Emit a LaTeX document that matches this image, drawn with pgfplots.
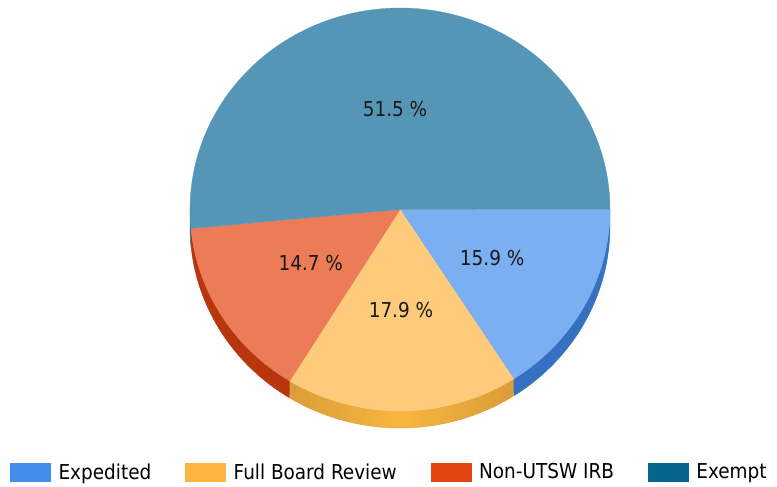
\documentclass[border=0pt]{standalone}
\usepackage{fontspec}
\setmainfont{DejaVu Sans Condensed}
\usepackage{pgfplots}
\usepackage{pgfplotstable}
\pgfplotsset{compat=1.18}
\definecolor{expTop}{HTML}{7BAFF2}
\definecolor{fullTop}{HTML}{FDCB7B}
\definecolor{nonTop}{HTML}{EB7C57}
\definecolor{exmTop}{HTML}{5596B7}
\definecolor{expSide}{HTML}{3670C0}
\definecolor{fullSideE}{HTML}{D99D3A}
\definecolor{fullSideM}{HTML}{FAB540}
\definecolor{nonSide}{HTML}{B8360E}
\definecolor{exmSide}{HTML}{2E6F8E}
\definecolor{expLeg}{HTML}{448EEB}
\definecolor{fullLeg}{HTML}{FDB541}
\definecolor{nonLeg}{HTML}{E2450F}
\definecolor{exmLeg}{HTML}{06658F}

\pgfplotstableread{
name value
Expedited 15.9
FullBoard 17.9
NonUTSW 14.7
Exempt 51.5
}\pietable
\pgfplotstablegetelem{0}{value}\of\pietable \let\vA\pgfplotsretval
\pgfplotstablegetelem{1}{value}\of\pietable \let\vB\pgfplotsretval
\pgfplotstablegetelem{2}{value}\of\pietable \let\vC\pgfplotsretval
\pgfplotstablegetelem{3}{value}\of\pietable \let\vD\pgfplotsretval
\pgfmathsetmacro\aA{0}
\pgfmathsetmacro\aB{3.6*\vA}
\pgfmathsetmacro\aC{\aB+3.6*\vB}
\pgfmathsetmacro\aD{\aC+3.6*\vC}
\pgfmathsetmacro\aE{\aD+3.6*\vD}
\pgfmathsetmacro\aBx{\aB+0.8}
\pgfmathsetmacro\aCx{\aC+0.8}
\pgfmathsetmacro\aDx{\aD+0.8}
\def\cx{400}\def\cy{209.5}\def\rx{210}\def\ry{201.5}\def\dz{17}
\pgfmathsetmacro\lAx{\cx+0.5*\rx*cos((\aA+\aB)/2)}\pgfmathsetmacro\lAy{\cy+0.5*\ry*sin((\aA+\aB)/2)}
\pgfmathsetmacro\lBx{\cx+0.5*\rx*cos((\aB+\aC)/2)}\pgfmathsetmacro\lBy{\cy+0.5*\ry*sin((\aB+\aC)/2)}
\pgfmathsetmacro\lCx{\cx+0.5*\rx*cos((\aC+\aD)/2)}\pgfmathsetmacro\lCy{\cy+0.5*\ry*sin((\aC+\aD)/2)}
\pgfmathsetmacro\lDx{\cx+0.5*\rx*cos((\aD+\aE)/2)}\pgfmathsetmacro\lDy{\cy+0.5*\ry*sin((\aD+\aE)/2)}
\newcommand\pieside[3]{%
\addplot[#3, domain=0:2, samples=121, variable=\t, line width=0.4bp]
 ({\cx+\rx*cos((\t<=1.0001) ? (#1+(#2-#1)*\t) : (#2-(#2-#1)*(\t-1)))},
  {\cy+\ry*sin((\t<=1.0001) ? (#1+(#2-#1)*\t) : (#2-(#2-#1)*(\t-1)))+(\t>1.0001)*\dz});
}
\newcommand\pietop[3]{%
\addplot[fill=#3, draw=#3, line width=0.3bp, domain=#1:#2, samples=120, variable=\t]
 ({\cx+\rx*cos(\t)},{\cy+\ry*sin(\t)}) -- (axis cs:\cx,\cy) -- cycle;
}
\begin{document}%
\begin{tikzpicture}
\begin{axis}[
  at={(0,0)}, anchor=south west,
  scale only axis, width=777bp, height=487bp,
  xmin=0, xmax=777, ymin=0, ymax=487, y dir=reverse,
  hide axis, clip=false, no markers,
  font=\fontsize{20.5bp}{24bp}\selectfont,
  legend columns=4,
  legend style={at={(axis cs:10,472)}, anchor=west, draw=none, fill=none, inner sep=0pt,
    column sep=8bp, /tikz/every even column/.append style={column sep=34bp},
    nodes={inner sep=0pt}, font=\fontsize{20.5bp}{24bp}\selectfont},
  legend cell align=left,
]
\addlegendimage{legend image code/.code={\fill[expLeg] (0bp,-9bp) rectangle (40bp,9bp);}}
\addlegendentry{Expedited}
\addlegendimage{legend image code/.code={\fill[fullLeg] (0bp,-9bp) rectangle (40bp,9bp);}}
\addlegendentry{Full Board Review}
\addlegendimage{legend image code/.code={\fill[nonLeg] (0bp,-9bp) rectangle (40bp,9bp);}}
\addlegendentry{Non-UTSW IRB}
\addlegendimage{legend image code/.code={\fill[exmLeg] (0bp,-9bp) rectangle (40bp,9bp);}}
\addlegendentry{Exempt}
% sides
\pieside{\aA}{\aBx}{fill=expSide, draw=expSide}
\pieside{\aB}{\aCx}{left color=fullSideE, right color=fullSideE, middle color=fullSideM, draw=fullSideE}
\pieside{\aC}{\aDx}{fill=nonSide, draw=nonSide}
\pieside{\aD}{180}{fill=exmSide, draw=exmSide}
% tops
\pietop{\aA}{\aB}{expTop}
\pietop{\aB}{\aC}{fullTop}
\pietop{\aC}{\aD}{nonTop}
\pietop{\aD}{\aE}{exmTop}
\node[text=black!90] at (axis cs:\lAx,\lAy) {\vA~\%};
\node[text=black!90] at (axis cs:\lBx,\lBy) {\vB~\%};
\node[text=black!90] at (axis cs:\lCx,\lCy) {\vC~\%};
\node[text=black!90] at (axis cs:\lDx,\lDy) {\vD~\%};
\end{axis}
\pgfresetboundingbox
\useasboundingbox (0,0) rectangle (777bp,487bp);
\end{tikzpicture}%
\end{document}
